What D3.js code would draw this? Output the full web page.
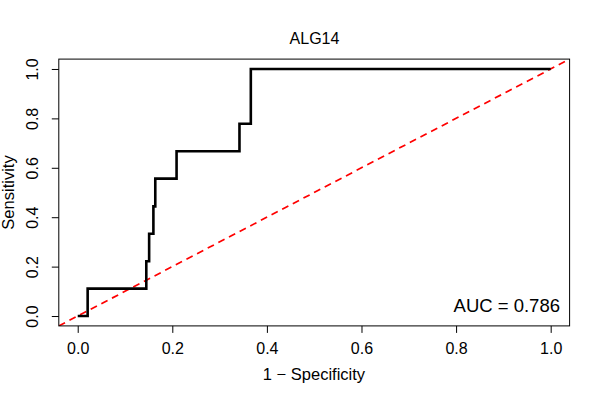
<!DOCTYPE html>
<html>
<head>
<meta charset="utf-8">
<script src="https://cdn.jsdelivr.net/npm/d3@7"></script>
<style>
  body { margin: 0; background: #fff; }
  svg { font-family: "Liberation Sans", Arial, Helvetica, sans-serif; }
</style>
</head>
<body>
<div id="viz"></div>
<script>
// ROC step points: 1 - specificity and sensitivity
const fpr = [0, 0.021, 0.145, 0.151, 0.160, 0.164, 0.209, 0.342, 0.366, 1];
const tpr = [0, 0.111, 0.222, 0.333, 0.444, 0.556, 0.667, 0.778, 1.0, 1.0];
const tickValues = [0, 0.2, 0.4, 0.6, 0.8, 1.0];
const title = 'ALG14';
const xLabel = '1 \u2212 Specificity';
const yLabel = 'Sensitivity';
const aucText = 'AUC = 0.786';

const width = 600;
const height = 400;
const plotLeft = 58.8, plotRight = 569.6, plotTop = 59.1, plotBottom = 325.9;

const svg = d3.select('#viz')
              .append('svg')
              .attr('width', width)
              .attr('height', height);

// R pads the range by 4% on each side
const xScale = d3.scaleLinear().domain([-0.04, 1.04]).range([plotLeft, plotRight]);
const yScale = d3.scaleLinear().domain([-0.04, 1.04]).range([plotBottom, plotTop]);
const fmt = d3.format('.1f');

svg.append('clipPath')
   .attr('id', 'plot-clip')
   .append('rect')
   .attr('x', plotLeft)
   .attr('y', plotTop)
   .attr('width', plotRight - plotLeft)
   .attr('height', plotBottom - plotTop);

// x axis
const xAxis = svg.append('g')
                 .attr('transform', 'translate(0,' + plotBottom + ')')
                 .call(d3.axisBottom(xScale).tickValues(tickValues).tickFormat(fmt).tickSize(7).tickSizeOuter(0));
xAxis.select('.domain').remove();
xAxis.selectAll('line').attr('stroke', '#000');
xAxis.selectAll('text')
     .attr('y', 28.2)
     .attr('dy', 0)
     .attr('fill', '#000')
     .style('font-size', '16px');
xAxis.attr('font-family', null).attr('font-size', null);

// y axis, labels parallel to the axis as in R
const yAxis = svg.append('g')
                 .attr('transform', 'translate(' + plotLeft + ',0)')
                 .call(d3.axisLeft(yScale).tickValues(tickValues).tickFormat(fmt).tickSize(7).tickSizeOuter(0));
yAxis.select('.domain').remove();
yAxis.selectAll('line').attr('stroke', '#000');
yAxis.selectAll('text')
     .attr('transform', 'rotate(-90)')
     .attr('x', 0)
     .attr('y', -20.5)
     .attr('dy', 0)
     .attr('text-anchor', 'middle')
     .attr('fill', '#000')
     .style('font-size', '16px');
yAxis.attr('font-family', null).attr('font-size', null);

// reference diagonal
svg.append('line')
   .attr('clip-path', 'url(#plot-clip)')
   .attr('x1', xScale(-0.04))
   .attr('y1', yScale(-0.04))
   .attr('x2', xScale(1.04))
   .attr('y2', yScale(1.04))
   .attr('stroke', '#ff0000')
   .attr('stroke-width', 1.7)
   .attr('stroke-dasharray', '7,5');

// ROC curve
const points = fpr.map((d, i) => [d, tpr[i]]);
const line = d3.line()
               .x(d => xScale(d[0]))
               .y(d => yScale(d[1]))
               .curve(d3.curveStepAfter);
svg.append('path')
   .datum(points)
   .attr('d', line)
   .attr('fill', 'none')
   .attr('stroke', '#000')
   .attr('stroke-width', 2.6);

// box
svg.append('rect')
   .attr('x', plotLeft)
   .attr('y', plotTop)
   .attr('width', plotRight - plotLeft)
   .attr('height', plotBottom - plotTop)
   .attr('fill', 'none')
   .attr('stroke', '#000')
   .attr('stroke-width', 1);

svg.append('text')
   .attr('x', 314.5)
   .attr('y', 43.5)
   .attr('text-anchor', 'middle')
   .style('font-size', '16px')
   .text(title);

svg.append('text')
   .attr('x', 314)
   .attr('y', 380)
   .attr('text-anchor', 'middle')
   .style('font-size', '16.5px')
   .text(xLabel);

svg.append('text')
   .attr('transform', 'translate(13.5,' + ((plotTop + plotBottom) / 2) + ') rotate(-90)')
   .attr('text-anchor', 'middle')
   .style('font-size', '16.5px')
   .text(yLabel);

svg.append('text')
   .attr('x', 560)
   .attr('y', 311.5)
   .attr('text-anchor', 'end')
   .style('font-size', '18.5px')
   .text(aucText);
</script>
</body>
</html>
